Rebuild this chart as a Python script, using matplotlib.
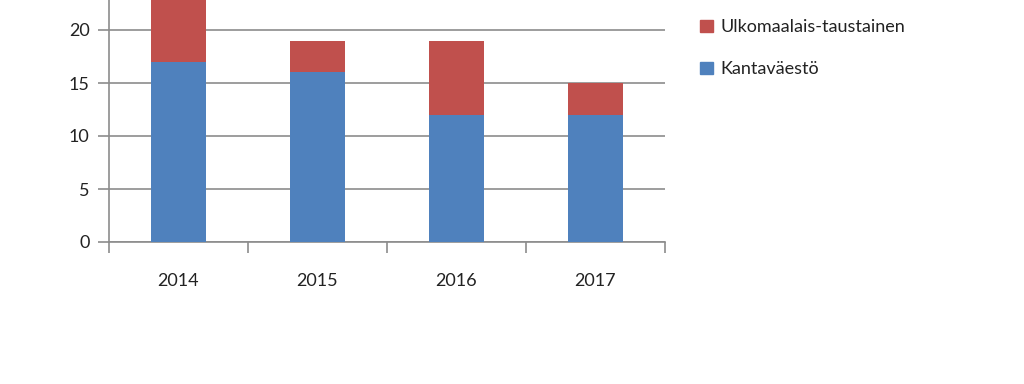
import matplotlib.pyplot as plt
import numpy as np
from matplotlib.patches import Patch

years = ["2014", "2015", "2016", "2017"]
kanta = [17, 16, 12, 12]
ulko = [6, 3, 7, 3]

blue = "#4F81BD"
red = "#C0504D"
grid = "#8C8C8C"

plt.rcParams['font.family'] = ['Lato', 'DejaVu Sans']

fig = plt.figure(figsize=(10.24, 3.84), dpi=100)
# axes top runs past the figure edge, as in the cropped original
ax = fig.add_axes([109/1024, (384-242)/384, (665-109)/1024, 265/384])

x = np.arange(len(years))
ax.bar(x, kanta, width=0.4, color=blue, zorder=3)
ax.bar(x, ulko, width=0.4, bottom=kanta, color=red, zorder=3)

ax.set_xlim(-0.5, len(years) - 0.5)
ax.set_ylim(0, 25)
ax.set_yticks(range(0, 21, 5))
ax.yaxis.grid(True, color=grid, linewidth=1.2, zorder=0)
ax.set_xticks(x)
ax.set_xticklabels(years)
ax.set_xticks(np.arange(-0.5, len(years), 1), minor=True)
ax.tick_params(axis='x', which='major', length=0, pad=22, labelsize=13, labelcolor='#222222')
ax.tick_params(axis='x', which='minor', length=8, width=1.2, color=grid, direction='out')
ax.tick_params(axis='y', length=8, width=1.2, color=grid, pad=6, labelsize=13, labelcolor='#222222')

for s in ['top', 'right']:
    ax.spines[s].set_visible(False)
for s in ['left', 'bottom']:
    ax.spines[s].set_color(grid)
    ax.spines[s].set_linewidth(1.2)

handles = [Patch(color=red, label="Ulkomaalais-taustainen"),
           Patch(color=blue, label="Kantaväestö")]
fig.legend(handles=handles, loc='upper left', bbox_to_anchor=(684/1024, 1 - 3/384),
           frameon=False, fontsize=13, handlelength=0.7, handleheight=0.7,
           handletextpad=0.4, labelspacing=1.45, labelcolor='#222222')

fig.savefig("out.png", dpi=100)
